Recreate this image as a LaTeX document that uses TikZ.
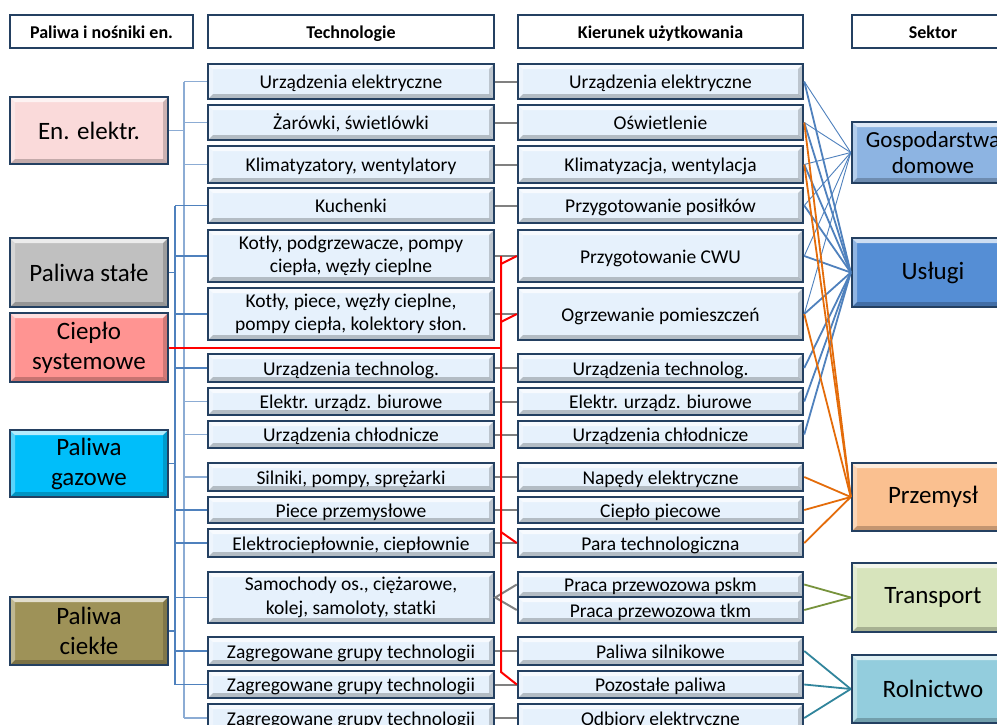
\documentclass[tikz,border=0pt]{standalone}
\usepackage{fontspec}
\setmainfont{Carlito}
\definecolor{navy}{RGB}{36,64,97}
\definecolor{boxfill}{RGB}{230,241,252}
\definecolor{pinkf}{RGB}{250,218,218}
\definecolor{grayf}{RGB}{192,192,192}
\definecolor{salmonf}{RGB}{255,148,146}
\definecolor{cyanf}{RGB}{0,190,250}
\definecolor{olivef}{RGB}{158,146,88}
\definecolor{gospf}{RGB}{141,180,226}
\definecolor{uslf}{RGB}{85,142,213}
\definecolor{przf}{RGB}{250,192,144}
\definecolor{trf}{RGB}{215,228,188}
\definecolor{rolf}{RGB}{147,205,221}
\definecolor{busAc}{RGB}{79,129,189}
\definecolor{busBc}{RGB}{140,172,212}
\definecolor{linkgray}{RGB}{128,128,128}
\definecolor{orangel}{RGB}{228,108,10}
\definecolor{greenl}{RGB}{119,147,60}
\definecolor{teall}{RGB}{49,133,156}
\newcommand\BX[7]{\node[#6, minimum width={(#4-#2)*1pt}, minimum height={(#5-#3)*1pt}] (#1) at ({(#2+#4)/2},{(#3+#5)/2}) {#7};}
\tikzset{
  bev/.style={path picture={
    \coordinate (bvnw) at (path picture bounding box.north west);
    \coordinate (bvne) at (path picture bounding box.north east);
    \coordinate (bvsw) at (path picture bounding box.south west);
    \coordinate (bvse) at (path picture bounding box.south east);
    \fill[white,opacity=.7] (bvnw) -- (bvne) -- ([shift={(-5pt,-5pt)}]bvne) -- ([shift={(5pt,-5pt)}]bvnw) -- cycle;
    \fill[white,opacity=.35] (bvnw) -- (bvsw) -- ([shift={(5pt,5pt)}]bvsw) -- ([shift={(5pt,-5pt)}]bvnw) -- cycle;
    \fill[black,opacity=.22] (bvsw) -- (bvse) -- ([shift={(-5pt,5pt)}]bvse) -- ([shift={(5pt,5pt)}]bvsw) -- cycle;
    \fill[black,opacity=.18] (bvne) -- (bvse) -- ([shift={(-5pt,5pt)}]bvse) -- ([shift={(-5pt,-5pt)}]bvne) -- cycle;
  }},
  base/.style={rectangle, draw=navy, line width=2.5pt, inner sep=0pt, align=center},
  tech/.style={base, fill=boxfill, bev, font=\fontsize{19.5}{23.5}\selectfont},
  one/.style={text height=14pt, text depth=0pt},
  big/.style={base, bev, font=\fontsize{25}{30}\selectfont},
  sect/.style={base, bev, font=\fontsize{25}{30}\selectfont},
  hdr/.style={base, fill=white, font=\bfseries\fontsize{18}{20}\selectfont, text height=13pt, text depth=0pt},
  busA/.style={draw=busAc, line width=1.2pt},
  busB/.style={draw=busBc, line width=1.2pt},
  glink/.style={draw=linkgray, line width=2pt},
  rlink/.style={draw=red, line width=2pt},
  thinb/.style={draw=busAc, line width=0.9pt},
  thickb/.style={draw=busAc, line width=1.8pt},
  orl/.style={draw=orangel, line width=1.8pt},
  grl/.style={draw=greenl, line width=1.8pt},
  tel/.style={draw=teall, line width=1.8pt}
}
\begin{document}
\begin{tikzpicture}[x=1pt,y=-1pt]
\useasboundingbox (0,0) rectangle (997,724);
\clip (0,0) rectangle (997,724);
\fill[white] (0,0) rectangle (997,724);

% ---- coordinates for buses
\coordinate (bAt) at (175,206);
\coordinate (bAb) at (175,685);
\coordinate (bBt) at (184,82);
\coordinate (bBb) at (184,718);
\coordinate (rt) at (501,256);
\coordinate (rb) at (501,672);
\coordinate (r5) at (501,264);
\coordinate (r6) at (501,322);
\coordinate (r12) at (501,532);

% ---- headers
\BX{h1}{10}{15}{193}{48}{hdr}{Paliwa i nośniki en.}
\BX{h2}{208}{15}{494}{48}{hdr}{Technologie}
\BX{h3}{518}{15}{803}{48}{hdr}{Kierunek użytkowania}
\BX{h4}{852}{15}{1014}{48}{hdr}{Sektor}

% ---- fuels
\BX{f1}{10}{97}{168}{164}{big,fill=pinkf}{En. elektr.}
\BX{f2}{10}{238}{168}{307}{big,fill=grayf}{Paliwa stałe}
\BX{f3}{10}{313}{168}{382}{big,fill=salmonf}{Ciepło\\systemowe}
\BX{f4}{10}{430}{168}{497}{big,fill=cyanf}{Paliwa\\gazowe}
\BX{f5}{10}{597}{168}{665}{big,fill=olivef}{Paliwa\\ciekłe}

% ---- buses (behind boxes)
\draw[busA] (bAt) -- (bAb);
\draw[busB] (bBt) -- (bBb);

% ---- technologies
\BX{t1}{208}{64}{494}{99}{tech,one}{Urządzenia elektryczne}
\BX{t2}{208}{105}{494}{140}{tech,one}{Żarówki, świetlówki}
\BX{t3}{208}{146}{494}{183}{tech,one}{Klimatyzatory, wentylatory}
\BX{t4}{208}{188}{494}{223}{tech,one}{Kuchenki}
\BX{t5}{208}{230}{494}{282}{tech}{Kotły, podgrzewacze, pompy\\ciepła, węzły cieplne}
\BX{t6}{208}{288}{494}{340}{tech}{Kotły, piece, węzły cieplne,\\pompy ciepła, kolektory słon.}
\BX{t7}{208}{354}{494}{382}{tech,one}{Urządzenia technolog.}
\BX{t8}{208}{388}{494}{415}{tech,one}{Elektr. urządz. biurowe}
\BX{t9}{208}{421}{494}{448}{tech,one}{Urządzenia chłodnicze}
\BX{t10}{208}{463}{494}{491}{tech,one}{Silniki, pompy, sprężarki}
\BX{t11}{208}{497}{494}{523}{tech,one}{Piece przemysłowe}
\BX{t12}{208}{529}{494}{557}{tech,one}{Elektrociepłownie, ciepłownie}
\BX{t13}{208}{572}{494}{623}{tech}{Samochody os., ciężarowe,\\kolej, samoloty, statki}
\BX{t14}{208}{637}{494}{665}{tech,one}{Zagregowane grupy technologii}
\BX{t15}{208}{671}{494}{698}{tech,one}{Zagregowane grupy technologii}
\BX{t16}{208}{704}{494}{732}{tech,one}{Zagregowane grupy technologii}

% ---- usage
\BX{u1}{518}{64}{803}{99}{tech,one}{Urządzenia elektryczne}
\BX{u2}{518}{105}{803}{140}{tech,one}{Oświetlenie}
\BX{u3}{518}{146}{803}{183}{tech,one}{Klimatyzacja, wentylacja}
\BX{u4}{518}{188}{803}{223}{tech,one}{Przygotowanie posiłków}
\BX{u5}{518}{230}{803}{282}{tech,one}{Przygotowanie CWU}
\BX{u6}{518}{288}{803}{340}{tech,one}{Ogrzewanie pomieszczeń}
\BX{u7}{518}{354}{803}{382}{tech,one}{Urządzenia technolog.}
\BX{u8}{518}{388}{803}{415}{tech,one}{Elektr. urządz. biurowe}
\BX{u9}{518}{421}{803}{448}{tech,one}{Urządzenia chłodnicze}
\BX{u10}{518}{463}{803}{491}{tech,one}{Napędy elektryczne}
\BX{u11}{518}{497}{803}{523}{tech,one}{Ciepło piecowe}
\BX{u12}{518}{529}{803}{557}{tech,one}{Para technologiczna}
\BX{u13}{518}{572}{803}{597}{tech,one}{Praca przewozowa pskm}
\BX{u14}{518}{597}{803}{623}{tech,one}{Praca przewozowa tkm}
\BX{u15}{518}{637}{803}{665}{tech,one}{Paliwa silnikowe}
\BX{u16}{518}{671}{803}{698}{tech,one}{Pozostałe paliwa}
\BX{u17}{518}{704}{803}{732}{tech,one}{Odbiory elektryczne}

% ---- sectors
\BX{s1}{852}{122}{1014}{183}{sect,fill=gospf,font=\fontsize{23}{26.5}\selectfont}{Gospodarstwa\\domowe}
\BX{s2}{852}{238}{1014}{307}{sect,fill=uslf}{Usługi}
\BX{s3}{852}{463}{1014}{531}{sect,fill=przf}{Przemysł}
\BX{s4}{852}{563}{1014}{632}{sect,fill=trf}{Transport}
\BX{s5}{852}{655}{1014}{723}{sect,fill=rolf}{Rolnictwo}

% ---- fuel -> bus
\draw[busB] (f1.east) -- (bBt |- f1.east);
\draw[busA] (f2.east) -- (bAt |- f2.east);
\draw[busA] (f4.east) -- (bAt |- f4.east);
\draw[busA] (f5.east) -- (bAt |- f5.east);

% ---- bus -> technologies
\foreach \t in {t4,t5,t6,t7,t11,t12,t13,t14,t15}
  \draw[busA] (bAt |- \t.west) -- (\t.west);
\foreach \t in {t1,t2,t3,t8,t9,t10,t16}
  \draw[busB] (bBt |- \t.west) -- (\t.west);

% ---- technologies -> usage
\foreach \a/\b in {t1/u1,t2/u2,t3/u3,t4/u4,t5/u5,t6/u6,t7/u7,t8/u8,t9/u9,t10/u10,t11/u11,t12/u12,t14/u15,t15/u16,t16/u17}
  \draw[glink] (\a.east) -- (\b.west);
\draw[glink] (u13.west) -- (t13.east) -- (u14.west);

% ---- district heat (red)
\draw[rlink] (f3.east) -- (rt |- f3.east);
\draw[rlink] (rt) -- (rb) -- (u16.west);
\draw[rlink] (r5) -- (u5.west);
\draw[rlink] (r6) -- (u6.west);
\draw[rlink] (r12) -- (u12.west);

% ---- usage -> sectors
\foreach \u in {u1,u2,u3,u4,u5,u6}
  \draw[thinb] (\u.east) -- (s1.west);
\foreach \u in {u1,u2,u3,u4,u5,u6,u7,u8,u9}
  \draw[thickb] (\u.east) -- (s2.west);
\foreach \u in {u2,u3,u6,u10,u11,u12}
  \draw[orl] (\u.east) -- (s3.west);
\foreach \u in {u13,u14}
  \draw[grl] (\u.east) -- (s4.west);
\foreach \u in {u15,u16,u17}
  \draw[tel] (\u.east) -- (s5.west);
\end{tikzpicture}
\end{document}
